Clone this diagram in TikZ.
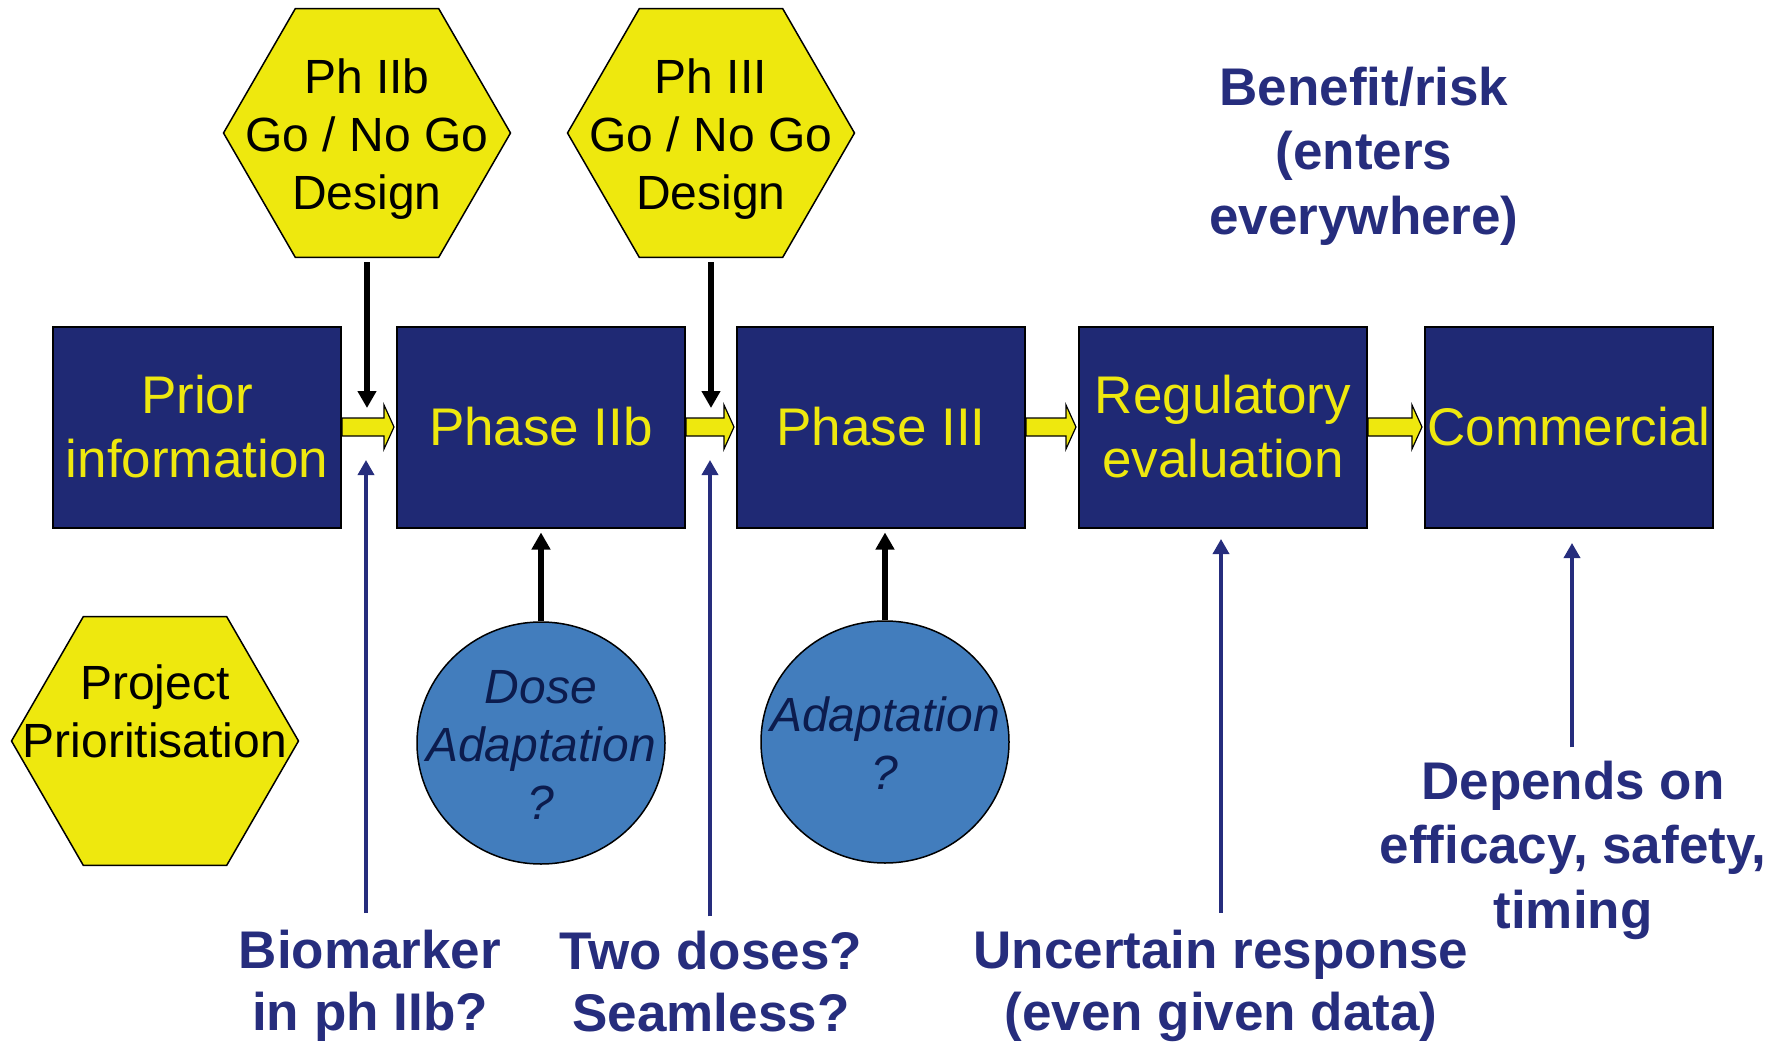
\documentclass[tikz,border=0pt]{standalone}
\usepackage{fontspec}
\setmainfont{Liberation Sans}
\usetikzlibrary{shapes.geometric,arrows.meta,calc}
\definecolor{navy}{RGB}{31,41,116}
\definecolor{ylw}{RGB}{238,232,14}
\definecolor{bubblefill}{RGB}{66,125,189}
\definecolor{bubbletxt}{RGB}{12,28,78}
\definecolor{notecol}{RGB}{38,45,125}

% yellow block arrow between two stage boxes
\newcommand\flowarrow[2]{%
  \path[flow] let \p1=(#1.east), \p2=(#2.west) in
    (\x1,\y1+9pt) -- (\x2-12pt,\y1+9pt) -- (\x2-12pt,\y1+22pt) -- (\x2-2pt,\y1)
    -- (\x2-12pt,\y1-22pt) -- (\x2-12pt,\y1-9pt) -- (\x1,\y1-9pt) -- cycle;}

\begin{document}
\begin{tikzpicture}[x=1pt,y=-1pt,
  stage/.style={draw=black,line width=2pt,fill=navy,text=ylw,minimum width=288pt,
    minimum height=201pt,inner sep=0pt,align=center,font=\fontsize{53}{64}\selectfont},
  hexa/.style={regular polygon,regular polygon sides=6,minimum size=287pt,inner sep=0pt,
    draw=black,line width=1.5pt,fill=ylw},
  hextext/.style={align=center,font=\fontsize{48}{58}\selectfont,text=black,inner sep=0pt},
  bubble/.style={ellipse,minimum width=248pt,minimum height=242pt,inner sep=0pt,
    draw=black,line width=1.5pt,fill=bubblefill},
  bubbletext/.style={align=center,font=\itshape\fontsize{48}{58}\selectfont,text=bubbletxt,inner sep=0pt},
  note/.style={align=center,font=\bfseries\fontsize{53}{62}\selectfont,text=notecol,inner sep=0pt},
  widenote/.style={note,font=\bfseries\fontsize{53}{64.5}\selectfont},
  feed/.style={draw=black,line width=5.5pt,-{Triangle[width=18pt,length=17pt]}},
  hint/.style={draw=notecol,line width=3.5pt,-{Triangle[width=16pt,length=15pt]}},
  flow/.style={draw=black,line width=1.2pt,fill=ylw},
]
\useasboundingbox (0,0) rectangle (1781,1043);

% development stages
\node[stage] (prior) at (197,427) {Prior\\information};
\node[stage] (p2)    at (541,427) {Phase IIb};
\node[stage] (p3)    at (881,427) {Phase III};
\node[stage] (reg)   at (1223,427) {Regulatory\\evaluation};
\node[stage] (com)   at (1569,427) {Commercial};

\flowarrow{prior}{p2}
\flowarrow{p2}{p3}
\flowarrow{p3}{reg}
\flowarrow{reg}{com}

% decision hexagons
\node[hexa] (h1) at (367,133) {};
\node[hextext] at (367,139) {Ph IIb\\Go / No Go\\Design};
\node[hexa] (h2) at (711,133) {};
\node[hextext] at (711,139) {Ph III\\Go / No Go\\Design};
\node[hexa] (h3) at (155,741) {};
\node[hextext] (h3t) at (155,711) {Project\\Prioritisation};

\coordinate (f1) at (367,408);
\coordinate (f2) at (711,408);
\draw[feed] ($(h1.south)+(0,4)$) -- (f1);
\draw[feed] ($(h2.south)+(0,4)$) -- (f2);

% adaptation bubbles
\node[bubble] (c1) at (541,743) {};
\node[bubbletext] at (541,745) {Dose\\Adaptation\\?};
\node[bubble] (c2) at (885,742) {};
\node[bubbletext] at (885,743) {Adaptation\\?};

\draw[feed] (c1.north) -- ($(p2.south)+(0,4)$);
\draw[feed] (c2.north) -- ($(c2.north |- p3.south)+(0,4)$);

% notes
\node[note] (n1) at (370,986) {Biomarker\\in ph IIb?};
\node[note] (n2) at (711,982) {Two doses?\\Seamless?};
\node[note] (n3) at (1221,986) {Uncertain response\\(even given data)};
\node[widenote] (n4) at (1573,850) {Depends on\\efficacy, safety,\\timing};
\node[widenote] (n5) at (1364,156) {Benefit/risk\\(enters\\everywhere)};

\coordinate (b1) at (366,460);
\coordinate (b2) at (710,460);
\coordinate (b3) at (1221,539);
\coordinate (b4) at (1572,543);
\draw[hint] ($(n1.north -| b1)+(0,-17)$) -- (b1);
\draw[hint] ($(n2.north -| b2)+(0,-15)$) -- (b2);
\draw[hint] ($(n3.north -| b3)+(0,-17)$) -- (b3);
\draw[hint] ($(n4.north -| b4)+(0,-13)$) -- (b4);
\end{tikzpicture}
\end{document}
